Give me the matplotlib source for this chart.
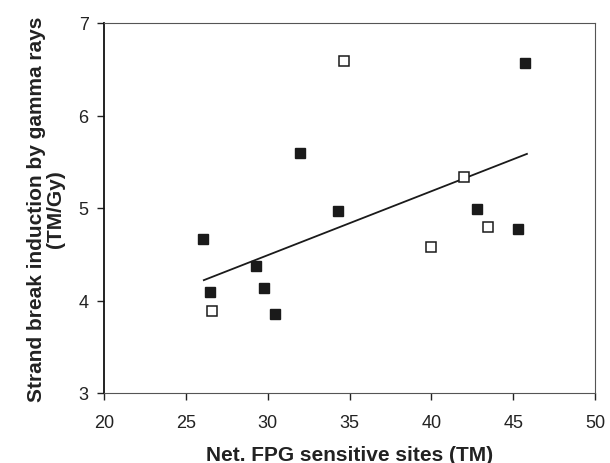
import matplotlib
matplotlib.use("Agg")
import matplotlib.pyplot as plt

# filled squares
filled_x = [26.05, 26.5, 29.3, 29.77, 30.45, 32.0, 34.3, 42.8, 45.27, 45.74]
filled_y = [4.67, 4.09, 4.37, 4.13, 3.85, 5.59, 4.97, 4.99, 4.77, 6.57]
# open squares
open_x = [26.6, 34.64, 39.96, 42.0, 43.48]
open_y = [3.89, 6.59, 4.575, 5.33, 4.79]
# regression line end points
fit_x = [26.1, 45.84]
fit_y = [4.22, 5.585]

x_ticks = [20, 25, 30, 35, 40, 45, 50]
y_ticks = [3, 4, 5, 6, 7]

plt.rcParams['font.family'] = ['Liberation Sans', 'DejaVu Sans']

fig = plt.figure(figsize=(6.1, 4.64), dpi=100)
ax = fig.add_axes([104 / 610, 70 / 464, 491 / 610, 370 / 464])

ax.plot(fit_x, fit_y, color='#1a1a1a', lw=1.3, zorder=2)
ax.plot(filled_x, filled_y, 's', ms=7.2, color='#1a1a1a', mec='#1a1a1a', zorder=3)
ax.plot(open_x, open_y, 's', ms=7.2, mfc='white', mec='#1a1a1a', mew=1.1, zorder=3)

ax.set_xlim(20, 50)
ax.set_ylim(3, 7)
ax.set_xticks(x_ticks)
ax.set_yticks(y_ticks)
ax.tick_params(direction='out', length=5, width=1, labelsize=13, colors='#222222')
ax.tick_params(axis='x', pad=10)
ax.tick_params(axis='y', pad=6)

for side in ['top', 'right', 'bottom']:
    ax.spines[side].set_color('#555555')
ax.spines['left'].set_color('#111111')
ax.spines['left'].set_linewidth(1.3)

ax.set_xlabel('Net. FPG sensitive sites (TM)', fontsize=15, fontweight='bold', labelpad=10, color='#222222')
ax.set_ylabel('Strand break induction by gamma rays\n(TM/Gy)', fontsize=15, fontweight='bold', labelpad=10,
              color='#222222', linespacing=1.0)

fig.savefig('out.png', dpi=100)
